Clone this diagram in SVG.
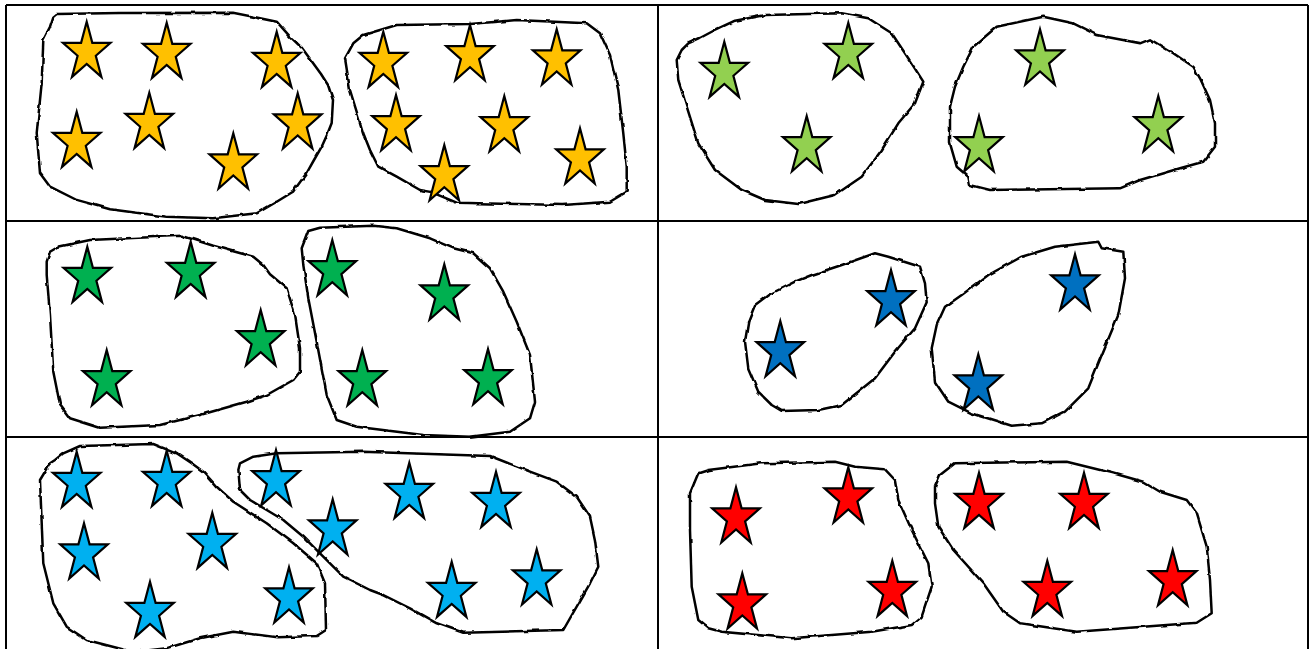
<svg xmlns="http://www.w3.org/2000/svg" xmlns:xlink="http://www.w3.org/1999/xlink" width="1311" height="649" viewBox="0 0 1311 649">
<style>
.grid{stroke:#000;stroke-width:2;fill:none}
.blob{stroke:#000;stroke-width:2.5;fill:none;stroke-linejoin:round;stroke-linecap:round}
.st{stroke:#000;stroke-width:2.2;stroke-linejoin:miter;stroke-miterlimit:10}
.y{fill:#FFC000}.lg{fill:#92D050}.g{fill:#00B050}.b{fill:#0070C0}.lb{fill:#00B0F0}.r{fill:#FF0000}
</style>
<defs>
<polygon id="s" points="0,-30.5 5.6,-9.4 23.8,-9.4 9.1,3.6 14.7,24.7 0,11.7 -14.7,24.7 -9.1,3.6 -23.8,-9.4 -5.6,-9.4"/>
<filter id="wob" x="-5%" y="-5%" width="110%" height="110%">
<feTurbulence type="fractalNoise" baseFrequency="0.09" numOctaves="2" seed="3" result="n"/>
<feDisplacementMap in="SourceGraphic" in2="n" scale="3" xChannelSelector="R" yChannelSelector="G"/>
</filter>
</defs>
<rect width="1311" height="649" fill="#fff"/>
<g id="grid" class="grid">
<line x1="6" y1="5" x2="1308" y2="5"/>
<line x1="6" y1="5" x2="6" y2="649"/>
<line x1="658" y1="5" x2="658" y2="649"/>
<line x1="1308" y1="5" x2="1308" y2="649"/>
<line x1="6" y1="221" x2="1308" y2="221"/>
<line x1="6" y1="437" x2="1308" y2="437"/>
</g>
<g id="blobs" class="blob" filter="url(#wob)">
<path d="M56.7,14 L120,13 L233,12.7 L276.7,21.7 L290,36.7 L302,48 L313,63 L321,74 L328,85 L333,100 L331.7,123 L327,135 L321.7,146.7 L314,160 L306.7,173 L293,191.7 L276.7,201.7 L256.7,213.3 L213,218.3 L166.7,216.7 L110,209.3 L76.7,200 L50,186.7 L40,173.3 L36.7,133 L39,110 L41.7,83 L43.3,40 L50,26.7 L53.3,16.7 Z"/>
<path d="M363.3,35 L396.7,25 L470,24 L516.7,20 L586.7,23.3 L600,33.3 L610,55 L618.3,90 L623.3,133.3 L626.7,166.7 L626.7,191.7 L610,201.7 L563.3,205 L456.7,202.7 L430,191.7 L420,190 L396.7,176.7 L378.3,166.7 L370,150 L363.3,133.3 L350,90 L345,58.3 L353.3,43.3 Z"/>
<path d="M688.3,43.3 L700,38 L715,30 L735,20.7 L765,15 L841.7,13.3 L868.3,18.3 L891.7,33.3 L908.3,58.3 L923.3,81.7 L915,103.3 L898.3,123.3 L881.7,150 L861.7,176.7 L835,195 L798.3,204 L765,200 L741.7,190 L715,170 L698.3,143.3 L686.7,106.7 L678.3,80 L676.7,60 L681.7,50 Z"/>
<path d="M963.3,66.7 L973.3,46.7 L996.7,26.7 L1043.3,16.7 L1073.3,23.3 L1096.7,35 L1140,43.3 L1150,39.3 L1173.3,53.3 L1193.3,66.7 L1200,78.3 L1210,100 L1215,123.3 L1215,146.7 L1203.3,161.7 L1180,168.3 L1140,180 L1120,188.3 L990,190 L970,185 L968.3,176.7 L956.7,166.7 L950,143.3 L950,106.7 L955,86.7 Z"/>
<path d="M50,251.7 L58.3,246.7 L90,240 L181.7,235.7 L213.3,245.7 L253.3,256.7 L263.3,265 L270,274.3 L286.7,288.3 L295,315 L300,348.3 L300,371.7 L293.3,380 L266.7,395 L246.7,401.7 L200,415 L160,425 L100,427.7 L70,418.3 L60,405 L53.3,371.7 L50,315 L46.7,275 L46.7,261.7 Z"/>
<path d="M308.3,231 L320,227.7 L373.3,225.7 L396.7,228.3 L430,238.3 L453.3,248.3 L473.3,253.3 L490,268.3 L503.3,291.7 L516.7,321.7 L530,355 L535,401.7 L530,418.3 L510,431.7 L470,436.7 L423.3,435 L356.7,426.7 L336.7,420 L326.7,395 L316.7,341.7 L308.3,298.3 L303.3,265 L301.7,248.3 Z"/>
<path d="M755,305 L768.3,295 L795,281.7 L811.7,275 L841.7,265 L875,253.3 L888.3,256.7 L920,266.7 L925,283.3 L926.7,302.3 L915,328.3 L895,351.7 L875,378.3 L841.7,405 L818.3,410 L781.7,411 L771.7,405 L758.3,391.7 L748.3,368.3 L745,341.7 L748.3,321.7 Z"/>
<path d="M945,306.7 L961.7,295 L988.3,275 L1021.7,256.7 L1055,246.7 L1098.3,241.7 L1101.7,248.3 L1123.3,251.7 L1125,278.3 L1118.3,315 L1101.7,355 L1088.3,388.3 L1065,411.7 L1041.7,423.3 L1011.7,425.7 L971.7,413.3 L948.3,401.7 L935,381.7 L931.7,348.3 L936.7,325 Z"/>
<path d="M55,460 L63.3,453.3 L80,446 L153.3,444 L176.7,453.3 L191.7,463.3 L203.3,471.7 L216.7,486.7 L233.3,501.7 L266.7,523.3 L293.3,543.3 L316.7,563.3 L325,583.3 L326,630 L316.7,636 L276.7,637.3 L233.3,631.7 L200,638.3 L166.7,648.3 L133,652 L86.7,640 L66.7,626.7 L53.3,603.3 L43.3,563.3 L40,480 L50,463.3 Z"/>
<path d="M240,463.3 L253.3,456.7 L276.7,453.3 L363.3,451.7 L490,456 L530,471.7 L556.7,481.7 L576.7,496.7 L590,516.7 L595,540 L598.3,566.7 L590,583.3 L563.3,630 L463.3,632.7 L436.7,623.3 L410,608.3 L383.3,595 L370,590 L343.3,576.7 L330,563.3 L320,553.3 L303.3,536.7 L283.3,520 L266.7,510 L250,500 L240,490 L238.3,470 Z"/>
<path d="M698.3,473.3 L708.3,470 L761.7,463.3 L835,461.7 L855,466.7 L885,469.3 L895,480 L898.3,500 L911.7,530 L928.3,563.3 L931.7,586.7 L921.7,616.7 L911.7,625 L871.7,631.7 L791.7,638.3 L721.7,631.7 L708.3,628.3 L698.3,620 L691.7,586.7 L690,530 L690,493.3 Z"/>
<path d="M935,486.7 L940,475 L955,463.3 L1066.7,461.7 L1113.3,473.3 L1143.3,481.7 L1160,491.7 L1186.7,500 L1196.7,513.3 L1206.7,546.7 L1210,580 L1211.7,613.3 L1196.7,622.7 L1153.3,626 L1076.7,631.7 L1020,623.3 L1003.3,611.7 L983.3,583.3 L953.3,550 L938.3,526.7 L935,503.3 Z"/>
</g>
<g id="stars-yellow" class="st y">
<use href="#s" x="86.7" y="52.2"/><use href="#s" x="166.7" y="53.2"/><use href="#s" x="276.7" y="62.2"/><use href="#s" x="76.7" y="142.2"/><use href="#s" x="149.3" y="123.2"/><use href="#s" x="233.3" y="163.8"/><use href="#s" x="297.7" y="123.8"/>
<use href="#s" x="383.3" y="62.2"/><use href="#s" x="470" y="55.5"/><use href="#s" x="556.7" y="59.8"/><use href="#s" x="396" y="125.5"/><use href="#s" x="504.3" y="126.5"/><use href="#s" x="444.3" y="175.5"/><use href="#s" x="580" y="158.8"/>
</g>
<g id="stars-lightgreen" class="st lg">
<use href="#s" x="724.3" y="72.2"/><use href="#s" x="848.3" y="53.2"/><use href="#s" x="806.7" y="146.5"/><use href="#s" x="1040" y="59.8"/><use href="#s" x="979" y="146.5"/><use href="#s" x="1158.3" y="126.5"/>
</g>
<g id="stars-green" class="st g">
<use href="#s" x="87.3" y="277.2"/><use href="#s" x="190.7" y="272.2"/><use href="#s" x="260.7" y="340.5"/><use href="#s" x="106.7" y="380.5"/><use href="#s" x="332.3" y="270.5"/><use href="#s" x="444.3" y="294.8"/><use href="#s" x="362.3" y="380.5"/><use href="#s" x="488" y="379.5"/>
</g>
<g id="stars-blue" class="st b">
<use href="#s" x="780.3" y="351.5"/><use href="#s" x="891" y="300.5"/><use href="#s" x="1075" y="284.8"/><use href="#s" x="978.3" y="384.8"/>
</g>
<g id="stars-lightblue" class="st lb">
<use href="#s" x="76.7" y="482.2"/><use href="#s" x="166.7" y="481.2"/><use href="#s" x="84" y="553.8"/><use href="#s" x="212.3" y="543.2"/><use href="#s" x="150" y="612.2"/><use href="#s" x="289" y="597.8"/><use href="#s" x="276" y="480.5"/><use href="#s" x="332.7" y="529.8"/><use href="#s" x="409.3" y="493.2"/><use href="#s" x="496" y="502.2"/><use href="#s" x="451.7" y="592.2"/><use href="#s" x="536.7" y="579.8"/>
</g>
<g id="stars-red" class="st r">
<use href="#s" x="736" y="517.8"/><use href="#s" x="848.3" y="497.8"/><use href="#s" x="742.3" y="603.8"/><use href="#s" x="892.3" y="591.2"/><use href="#s" x="979" y="503.2"/><use href="#s" x="1084" y="503.2"/><use href="#s" x="1047.3" y="591.2"/><use href="#s" x="1172.7" y="580.5"/>
</g>
</svg>
